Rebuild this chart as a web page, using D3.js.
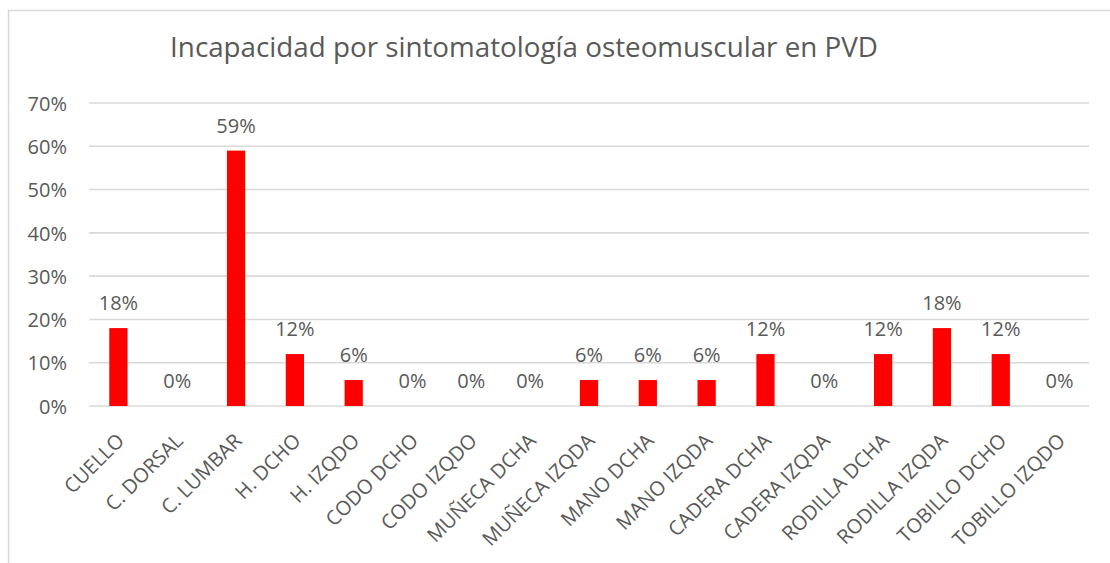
<!DOCTYPE html>
<html>
<head>
<meta charset="utf-8">
<script src="https://cdn.jsdelivr.net/npm/d3@7"></script>
<style>
  html, body { margin: 0; padding: 0; background: #fff; }
  svg { display: block; }
  text { font-family: "Open Sans", "Noto Sans", sans-serif; fill: #595959; }
</style>
</head>
<body>
<svg id="chart" width="1110" height="563"></svg>
<script>
// Body regions and share of workers reporting disability
const categories = ["CUELLO", "C. DORSAL", "C. LUMBAR", "H. DCHO", "H. IZQDO", "CODO DCHO", "CODO IZQDO",
  "MUÑECA DCHA", "MUÑECA IZQDA", "MANO DCHA", "MANO IZQDA", "CADERA DCHA", "CADERA IZQDA",
  "RODILLA DCHA", "RODILLA IZQDA", "TOBILLO DCHO", "TOBILLO IZQDO"];
const values = [0.18, 0, 0.59, 0.12, 0.06, 0, 0, 0, 0.06, 0.06, 0.06, 0.12, 0, 0.12, 0.18, 0.12, 0];
const yTicks = [0, 0.1, 0.2, 0.3, 0.4, 0.5, 0.6, 0.7];
const title = "Incapacidad por sintomatología osteomuscular en PVD";

const svg = d3.select("#chart");
const W = 1110, H = 563;
const m = { left: 89, right: 21, top: 103, bottom: 157 };
const pct = d3.format(".0%");

// outer chart frame (continues past the right and bottom edges)
svg.append("rect")
  .attr("x", 8.5).attr("y", 10.5)
  .attr("width", W + 20).attr("height", H + 20)
  .attr("fill", "#fff").attr("stroke", "#d9d9d9").attr("stroke-width", 1.5);

const x = d3.scaleBand().domain(categories).range([m.left, W - m.right]).paddingInner(0.69).paddingOuter(0.345);
const y = d3.scaleLinear().domain([0, 0.7]).range([H - m.bottom, m.top]);

// horizontal gridlines
svg.append("g")
  .selectAll("line").data(yTicks).join("line")
  .attr("x1", m.left).attr("x2", W - m.right)
  .attr("y1", d => y(d)).attr("y2", d => y(d))
  .attr("stroke", "#d9d9d9").attr("stroke-width", 1.6);

// y axis labels
const yAxis = d3.axisLeft(y).tickValues(yTicks).tickFormat(pct).tickSize(0).tickPadding(22);
const gy = svg.append("g").attr("transform", `translate(${m.left},0)`).call(yAxis);
gy.select(".domain").remove();
gy.selectAll("text")
  .attr("font-size", 20).attr("dy", "0.36em")
  .style("fill", "#595959").style("font-family", "'Open Sans', sans-serif");

// bars
svg.append("g")
  .selectAll("rect").data(values).join("rect")
  .attr("x", (d, i) => x(categories[i]))
  .attr("y", d => y(d))
  .attr("width", x.bandwidth())
  .attr("height", d => y(0) - y(d))
  .attr("fill", "#ff0000");

// value labels
svg.append("g")
  .selectAll("text").data(values).join("text")
  .attr("x", (d, i) => x(categories[i]) + x.bandwidth() / 2)
  .attr("y", d => y(d) - 18)
  .attr("text-anchor", "middle")
  .attr("font-size", 20)
  .text(d => pct(d));

// category axis, labels rotated 45 degrees
const xAxis = d3.axisBottom(x).tickSize(0).tickPadding(0);
const gx = svg.append("g").attr("transform", `translate(0,${y(0)})`).call(xAxis);
gx.select(".domain").remove();
gx.selectAll("text")
  .attr("font-size", 20)
  .style("fill", "#595959")
  .style("font-family", "'Open Sans', sans-serif")
  .attr("text-anchor", "end")
  .attr("dy", "0")
  .attr("y", 0)
  .attr("transform", "translate(7,36) rotate(-45)");

// title, sized to span its line
const t = svg.append("text")
  .attr("x", 524).attr("y", 57)
  .attr("text-anchor", "middle")
  .attr("font-size", 28)
  .text(title);
const tw = t.node().getComputedTextLength();
t.attr("font-size", 28 * 708 / tw);
</script>
</body>
</html>
